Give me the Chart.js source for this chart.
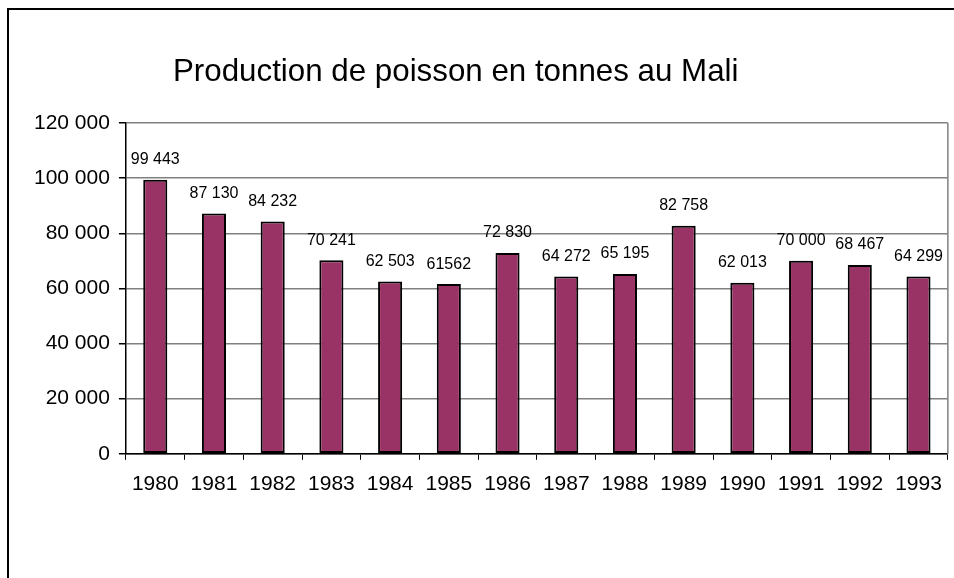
<!DOCTYPE html>
<html>
<head>
<meta charset="utf-8">
<script src="https://cdn.jsdelivr.net/npm/chart.js@4"></script>
<style>
  html, body { margin: 0; padding: 0; background: #fff; overflow: hidden; }
  #wrap { position: relative; width: 954px; height: 578px; }
  #frame {
    position: absolute; left: 7px; top: 8px; width: 1000px; height: 640px;
    border-left: 2px solid #000; border-top: 2px solid #000;
  }
  #title {
    position: absolute; left: 173px; top: 55px; margin: 0;
    font: 31.3px/31px "Liberation Sans", Arial, sans-serif; color: #000;
    white-space: nowrap; font-weight: normal;
  }
  canvas { position: absolute; left: 0; top: 0; }
</style>
</head>
<body>
<div id="wrap">
  <div id="frame"></div>
  <canvas id="graph" width="954" height="578"></canvas>
  <h1 id="title">Production de poisson en tonnes au Mali</h1>
</div>
<script>
const years = ["1980", "1981", "1982", "1983", "1984", "1985", "1986",
               "1987", "1988", "1989", "1990", "1991", "1992", "1993"];
const tonnes = [99443, 87130, 84232, 70241, 62503, 61562, 72830,
                64272, 65195, 82758, 62013, 70000, 68467, 64299];
const valueLabels = ["99 443", "87 130", "84 232", "70 241", "62 503", "61562", "72 830",
                     "64 272", "65 195", "82 758", "62 013", "70 000", "68 467", "64 299"];
const yTickLabels = ["0", "20 000", "40 000", "60 000", "80 000", "100 000", "120 000"];

const font = "'Liberation Sans', Arial, sans-serif";

// values over each bar
const barLabels = {
    id: 'barLabels',
    afterDatasetsDraw(chart) {
        const ctx = chart.ctx;
        const meta = chart.getDatasetMeta(0);
        ctx.save();
        ctx.font = "16px " + font;
        ctx.fillStyle = "#000";
        ctx.textAlign = "center";
        ctx.textBaseline = "middle";
        meta.data.forEach(function (bar, i) {
            ctx.fillText(valueLabels[i], bar.x, bar.y - 20);
        });
        ctx.restore();
    }
};

// grey frame on the right side of the plot area
const plotFrame = {
    id: 'plotFrame',
    beforeDatasetsDraw(chart) {
        const a = chart.chartArea;
        const ctx = chart.ctx;
        ctx.save();
        ctx.strokeStyle = "#808080";
        ctx.lineWidth = 1.5;
        ctx.beginPath();
        ctx.moveTo(a.right, a.top);
        ctx.lineTo(a.right, a.bottom);
        ctx.stroke();
        ctx.restore();
    }
};

new Chart(document.getElementById("graph"), {
    type: 'bar',
    data: {
        labels: years,
        datasets: [{
            data: tonnes,
            backgroundColor: '#993366',
            borderColor: '#000',
            borderWidth: 2,
            borderSkipped: false,
            categoryPercentage: 1,
            barPercentage: 0.41
        }]
    },
    plugins: [plotFrame, barLabels],
    options: {
        responsive: false,
        animation: false,
        layout: { padding: { left: 25, right: 4, top: 123, bottom: 69 } },
        plugins: {
            legend: { display: false },
            title: { display: false },
            tooltip: { enabled: false }
        },
        scales: {
            x: {
                grid: {
                    drawOnChartArea: false,
                    tickLength: 6,
                    tickColor: '#000',
                    offset: true
                },
                border: { color: '#000', width: 1.5 },
                ticks: {
                    color: '#000',
                    padding: 12,
                    maxRotation: 0,
                    font: { family: font, size: 21 }
                }
            },
            y: {
                min: 0,
                max: 120000,
                grid: {
                    color: '#808080',
                    lineWidth: 1.5,
                    tickLength: 7,
                    tickColor: '#000'
                },
                border: { color: '#000', width: 1.5 },
                ticks: {
                    stepSize: 20000,
                    color: '#000',
                    padding: 9,
                    font: { family: font, size: 21 },
                    callback: function (value) {
                        return yTickLabels[value / 20000];
                    }
                }
            }
        }
    }
});
</script>
</body>
</html>
